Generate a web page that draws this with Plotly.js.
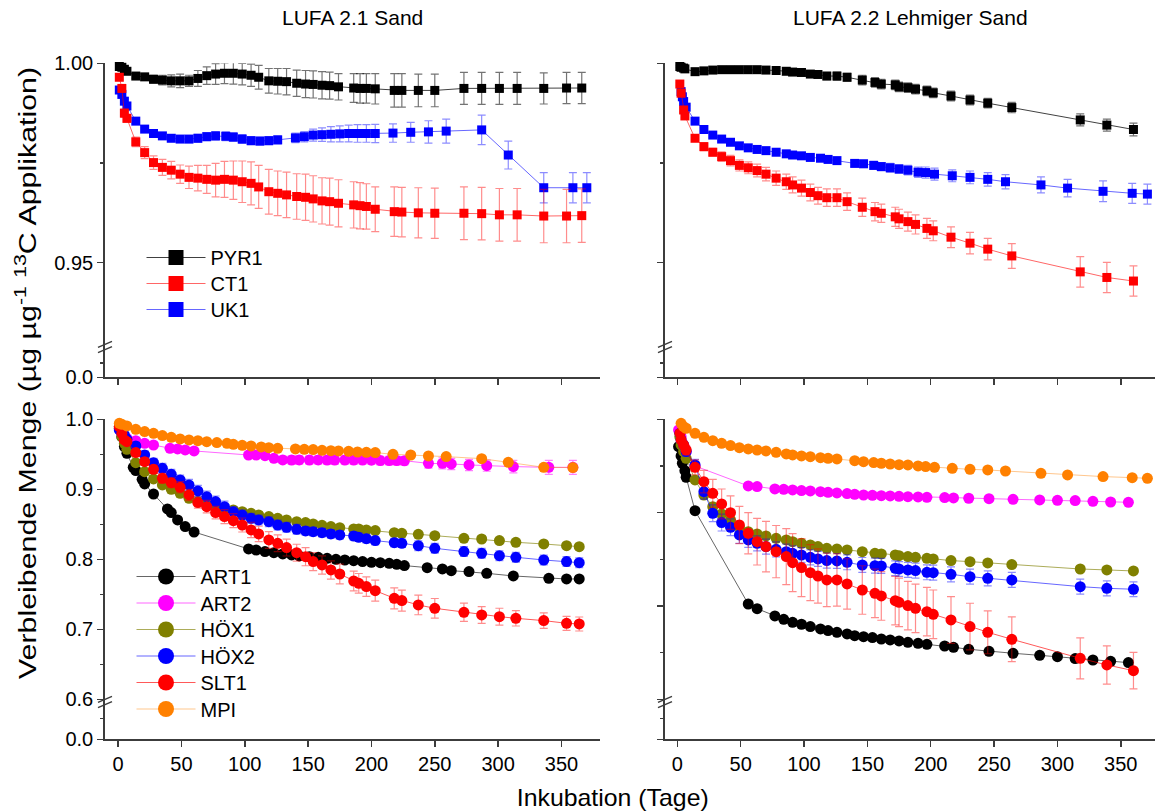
<!DOCTYPE html>
<html>
<head>
<meta charset="utf-8">
<script src="https://cdn.plot.ly/plotly-3.0.1.min.js"></script>
<style>html,body{margin:0;padding:0;background:#fff;}#chart{width:1155px;height:811px;}</style>
</head>
<body>
<div id="chart"></div>
<script>
// ---------------- DATA ----------------
// Top-left: LUFA 2.1 Sand (PYR1, CT1, UK1)
const tlDaysA = [1,3,5,7,14,21,28,35,42,49,56,63,70,77,84,91,98,105,111,119,126,133,141,148,154,161,167,174,186,191,196,203,218,224,237,250,273,287,301,315,336,354,366];
const tlPYR1 = [0.9992,0.999,0.9985,0.998,0.9968,0.9966,0.996,0.9958,0.9956,0.9956,0.9956,0.9962,0.9969,0.9973,0.9975,0.9975,0.9973,0.997,0.9965,0.9956,0.9955,0.9954,0.995,0.9948,0.9947,0.9945,0.9944,0.9941,0.9938,0.9937,0.9937,0.9936,0.9932,0.9932,0.9932,0.9932,0.9937,0.9937,0.9937,0.9937,0.9937,0.9938,0.9938];
const tlPYR1Err = [0.0002,0.0003,0.0004,0.0005,0.0006,0.0008,0.001,0.0012,0.0015,0.0017,0.0014,0.002,0.0022,0.0026,0.0026,0.0027,0.0027,0.0028,0.003,0.0031,0.0032,0.0033,0.0033,0.0034,0.0034,0.0034,0.0034,0.0033,0.0036,0.0037,0.0037,0.0038,0.0042,0.0042,0.0041,0.0041,0.004,0.004,0.004,0.004,0.0039,0.0039,0.0039];
const tlCT1 = [0.9965,0.9937,0.9875,0.9862,0.9803,0.9776,0.9751,0.9739,0.9732,0.9722,0.9714,0.9712,0.9709,0.9707,0.9709,0.9707,0.9703,0.9699,0.969,0.9678,0.9674,0.967,0.9666,0.9664,0.966,0.9655,0.9653,0.9649,0.9645,0.9643,0.9641,0.9634,0.9628,0.9627,0.9625,0.9624,0.9624,0.9623,0.962,0.962,0.9617,0.9617,0.9618];
const tlCT1Err = [0.0005,0.0008,0.001,0.001,0.0012,0.0015,0.0017,0.002,0.0022,0.0023,0.0028,0.0032,0.0035,0.0042,0.0045,0.0048,0.0052,0.0054,0.0054,0.0056,0.0056,0.0057,0.0057,0.0058,0.0058,0.0058,0.0059,0.0059,0.0058,0.0058,0.0057,0.0056,0.0062,0.0062,0.0063,0.0063,0.0066,0.0066,0.0066,0.0066,0.0067,0.0067,0.0067];
const tlDaysUK = [1,3,5,7,14,21,28,35,42,49,56,63,70,77,85,91,98,105,112,119,126,140,147,154,161,168,175,182,189,196,203,217,231,245,259,287,308,336,359,370];
const tlUK1 = [0.9933,0.9922,0.9905,0.9893,0.9855,0.9835,0.9824,0.9818,0.9812,0.981,0.981,0.9812,0.9816,0.9818,0.9817,0.9815,0.981,0.9806,0.9805,0.9806,0.9808,0.9813,0.9816,0.982,0.9821,0.9822,0.9823,0.9824,0.9824,0.9824,0.9824,0.9825,0.9827,0.9828,0.983,0.9833,0.977,0.9688,0.9688,0.9688];
const tlUK1Err = [0.0003,0.0004,0.0005,0.0005,0.0005,0.0005,0.0006,0.0007,0.0008,0.0008,0.0009,0.001,0.001,0.0011,0.0011,0.0011,0.0011,0.001,0.001,0.001,0.001,0.0012,0.0013,0.0015,0.0017,0.0019,0.002,0.0021,0.0022,0.0022,0.0023,0.0023,0.0025,0.0028,0.003,0.0037,0.0035,0.0038,0.0038,0.0038];

// Top-right: LUFA 2.2 Lehmiger Sand (PYR1, CT1, UK1)
const trDaysA = [2,3,5,6,14,21,28,35,42,49,56,63,70,78,86,91,98,105,111,118,126,134,146,156,161,172,175,182,188,197,202,216,231,245,264,318,339,360];
const trPYR1 = [0.9992,0.999,0.9988,0.9986,0.9979,0.9981,0.9983,0.9984,0.9984,0.9984,0.9984,0.9984,0.9983,0.9982,0.998,0.9978,0.9977,0.9973,0.9972,0.9968,0.9968,0.9965,0.9958,0.9952,0.9948,0.9946,0.9941,0.9939,0.9935,0.9931,0.9926,0.9918,0.9908,0.99,0.9889,0.9858,0.9845,0.9834];
const trPYR1Err = [0.0002,0.0002,0.0003,0.0003,0.0003,0.0003,0.0003,0.0004,0.0004,0.0004,0.0004,0.0005,0.0005,0.0006,0.0007,0.0007,0.0008,0.0008,0.0008,0.0009,0.001,0.001,0.0012,0.0012,0.0012,0.0012,0.0012,0.0012,0.0012,0.0012,0.0012,0.0012,0.0012,0.0012,0.0013,0.0015,0.0015,0.0016];
const trCT1 = [0.9948,0.9925,0.9883,0.9868,0.9812,0.9791,0.9777,0.9766,0.9756,0.9744,0.9738,0.9731,0.9722,0.9712,0.9703,0.9695,0.9687,0.9676,0.9668,0.9663,0.9663,0.9653,0.9639,0.9628,0.9624,0.9615,0.961,0.9603,0.9596,0.9586,0.958,0.9564,0.9549,0.9534,0.9517,0.9477,0.9463,0.9454];
const trCT1Err = [0.0003,0.0004,0.0005,0.0005,0.0008,0.001,0.001,0.0012,0.0013,0.0014,0.0015,0.0016,0.0017,0.0018,0.0019,0.002,0.002,0.0021,0.0021,0.0022,0.0022,0.0022,0.0023,0.0023,0.0023,0.0024,0.0024,0.0024,0.0024,0.0025,0.0025,0.0026,0.0027,0.0027,0.0031,0.0038,0.0038,0.0038];
const trDaysUK = [3,4,5,7,14,21,28,35,42,49,56,63,70,78,86,91,98,105,113,119,126,140,147,155,161,168,175,182,190,196,203,217,231,245,259,287,308,336,359,371];
const trUK1 = [0.9929,0.9916,0.9904,0.989,0.9855,0.9834,0.982,0.981,0.9802,0.9793,0.9788,0.9784,0.9781,0.9777,0.9773,0.977,0.9768,0.9764,0.9762,0.9759,0.9756,0.9749,0.9748,0.9744,0.9741,0.9738,0.9735,0.9732,0.9727,0.9726,0.9722,0.9718,0.9714,0.9709,0.9703,0.9695,0.9687,0.9679,0.9674,0.9672];
const trUK1Err = [0.0003,0.0003,0.0003,0.0004,0.0004,0.0004,0.0005,0.0005,0.0005,0.0005,0.0005,0.0005,0.0006,0.0006,0.0006,0.0006,0.0006,0.0007,0.0007,0.0007,0.0007,0.0008,0.0009,0.001,0.001,0.0011,0.0011,0.0012,0.0013,0.0014,0.0015,0.0015,0.0016,0.0017,0.0018,0.002,0.0022,0.0026,0.0025,0.0025];

// Bottom-left: LUFA 2.1 Sand (ART1, ART2, HÖX1, HÖX2, SLT1, MPI)
const blDaysART1 = [1,3,5,7,12,14,19,21,28,39,42,47,53,60,103,109,116,123,130,137,143,151,158,165,172,179,186,193,200,207,214,220,226,244,256,263,277,291,312,340,354,364];
const blART1 = [0.9895,0.975,0.961,0.9514,0.9314,0.9267,0.9143,0.9076,0.8933,0.8719,0.8667,0.8562,0.8467,0.839,0.8148,0.8133,0.811,0.8095,0.8076,0.8062,0.8048,0.8038,0.8029,0.8014,0.8,0.799,0.7981,0.7967,0.7957,0.7952,0.7943,0.7929,0.791,0.7881,0.7862,0.7838,0.7824,0.78,0.7762,0.7729,0.7719,0.7719];
const blART1Err = [0.001,0.002,0.002,0.002,0.002,0.002,0.002,0.002,0.002,0.002,0.002,0.002,0.002,0.002,0.002,0.002,0.002,0.002,0.002,0.002,0.002,0.002,0.002,0.002,0.002,0.002,0.002,0.002,0.002,0.002,0.002,0.002,0.002,0.003,0.003,0.003,0.003,0.003,0.003,0.003,0.003,0.003];
const blDaysART2 = [1,3,7,14,21,28,41,47,53,60,103,109,116,123,130,137,143,151,158,165,171,179,186,193,200,207,214,220,226,245,256,263,277,291,312,340,359];
const blART2 = [0.9871,0.98,0.9729,0.9695,0.9657,0.9633,0.9586,0.9576,0.9562,0.9548,0.949,0.949,0.9481,0.9443,0.9419,0.9418,0.9419,0.9418,0.9419,0.9418,0.9417,0.9418,0.9417,0.9418,0.9416,0.941,0.941,0.941,0.9408,0.9371,0.9371,0.9362,0.9348,0.9338,0.9324,0.9314,0.9314];
const blART2Err = [0.001,0.002,0.002,0.002,0.002,0.002,0.002,0.002,0.002,0.002,0.002,0.002,0.003,0.004,0.005,0.006,0.006,0.006,0.006,0.006,0.006,0.006,0.006,0.006,0.006,0.006,0.006,0.006,0.006,0.007,0.008,0.008,0.008,0.008,0.009,0.01,0.01];
const blDaysA = [1,3,5,7,14,21,28,35,42,49,56,63,70,77,84,91,98,105,111,119,126,133,141,148,154,161,168,175,186,190,196,203,218,224,237,250,273,287,301,314,336,354,364];
const blHOX1 = [0.9871,0.9752,0.9657,0.9571,0.9381,0.9252,0.9148,0.9062,0.9,0.8943,0.8871,0.8824,0.8776,0.8752,0.8729,0.8705,0.8681,0.8657,0.8633,0.861,0.8586,0.8562,0.8538,0.8524,0.8505,0.8486,0.8467,0.8452,0.8433,0.8433,0.8419,0.841,0.8381,0.8371,0.8357,0.8338,0.83,0.829,0.8267,0.8243,0.8219,0.8195,0.8181];
const blHOX1Err = [0.001,0.002,0.002,0.002,0.003,0.003,0.003,0.004,0.004,0.004,0.004,0.004,0.004,0.004,0.004,0.004,0.004,0.004,0.004,0.004,0.004,0.004,0.004,0.004,0.004,0.004,0.004,0.004,0.004,0.004,0.004,0.004,0.004,0.004,0.004,0.004,0.004,0.004,0.004,0.004,0.004,0.004,0.004];
const blHOX2 = [0.9848,0.981,0.9776,0.9714,0.9619,0.949,0.9381,0.93,0.9214,0.9133,0.9062,0.8976,0.8895,0.8824,0.8752,0.8681,0.8633,0.8586,0.8562,0.8538,0.849,0.8457,0.8429,0.8405,0.8395,0.8381,0.8362,0.8348,0.8333,0.8314,0.8295,0.8267,0.8238,0.8229,0.8195,0.8157,0.811,0.8086,0.8052,0.8029,0.799,0.7967,0.7952];
const blHOX2Err = [0.002,0.003,0.003,0.004,0.005,0.006,0.006,0.007,0.007,0.007,0.008,0.008,0.008,0.008,0.008,0.007,0.007,0.007,0.007,0.007,0.007,0.007,0.007,0.006,0.006,0.006,0.006,0.006,0.006,0.006,0.006,0.006,0.006,0.006,0.007,0.007,0.007,0.007,0.007,0.007,0.007,0.007,0.007];
const blSLT1 = [0.9895,0.98,0.9705,0.9681,0.9524,0.9395,0.9286,0.9157,0.9095,0.9029,0.8919,0.881,0.8752,0.8667,0.861,0.8552,0.849,0.8419,0.8362,0.8276,0.8229,0.8167,0.8095,0.8038,0.7967,0.7919,0.7848,0.779,0.769,0.7657,0.761,0.7552,0.7443,0.741,0.7348,0.73,0.7243,0.7205,0.7181,0.7157,0.7124,0.7086,0.7076];
const blSLT1Err = [0.001,0.002,0.002,0.003,0.004,0.005,0.006,0.007,0.007,0.008,0.008,0.008,0.009,0.009,0.01,0.01,0.01,0.011,0.011,0.012,0.012,0.012,0.012,0.013,0.013,0.013,0.013,0.014,0.014,0.014,0.014,0.015,0.015,0.015,0.014,0.014,0.013,0.012,0.012,0.011,0.011,0.01,0.01];
const blDaysMPI = [1,3,7,14,21,28,35,42,49,56,63,70,78,86,91,98,105,113,119,126,140,147,154,161,168,174,182,189,196,203,217,231,245,259,287,308,336,359];
const blMPI = [0.9943,0.9929,0.9905,0.9857,0.9824,0.98,0.9767,0.9743,0.9719,0.9705,0.9695,0.9681,0.9667,0.9657,0.9643,0.9629,0.9619,0.9605,0.9595,0.9586,0.9576,0.9571,0.9567,0.9557,0.9552,0.9548,0.9543,0.9533,0.9529,0.9524,0.95,0.949,0.9476,0.9467,0.9438,0.9386,0.9314,0.931];
const blMPIErr = [0.001,0.001,0.001,0.002,0.002,0.002,0.002,0.002,0.002,0.002,0.002,0.002,0.002,0.002,0.002,0.002,0.002,0.002,0.002,0.002,0.002,0.002,0.002,0.002,0.002,0.002,0.002,0.002,0.002,0.002,0.002,0.002,0.003,0.003,0.003,0.003,0.003,0.003];

// Bottom-right: LUFA 2.2 Lehmiger Sand
const brDaysART = [1,3,4,6,7,14,56,63,77,84,91,98,105,113,119,126,134,140,147,154,161,168,175,182,190,197,211,218,230,246,265,286,300,314,328,342,356];
const brART1 = [0.9707,0.9607,0.9529,0.945,0.9379,0.9021,0.8021,0.7971,0.7893,0.7857,0.7825,0.7804,0.7779,0.7754,0.7736,0.7718,0.77,0.7682,0.7671,0.7661,0.7646,0.7636,0.7625,0.7611,0.76,0.7589,0.7571,0.7557,0.7536,0.7514,0.7493,0.7471,0.7457,0.7436,0.7421,0.7407,0.7393];
const brART1Err = [0.001,0.001,0.001,0.001,0.001,0.002,0.002,0.002,0.002,0.002,0.002,0.002,0.002,0.002,0.002,0.002,0.002,0.002,0.002,0.002,0.002,0.002,0.002,0.002,0.002,0.002,0.002,0.002,0.002,0.002,0.002,0.002,0.002,0.002,0.002,0.002,0.002];
const brART2 = [0.9886,0.9814,0.9743,0.9689,0.9654,0.95,0.9286,0.9279,0.9254,0.925,0.9243,0.9236,0.9232,0.9225,0.9218,0.9211,0.9204,0.9196,0.9189,0.9186,0.9182,0.9179,0.9175,0.9171,0.9168,0.9164,0.9161,0.9157,0.9154,0.915,0.9143,0.9136,0.9132,0.9129,0.9121,0.9114,0.9111];
const brART2Err = [0.001,0.001,0.001,0.001,0.001,0.001,0.001,0.001,0.001,0.001,0.001,0.001,0.001,0.001,0.001,0.001,0.001,0.001,0.001,0.001,0.001,0.001,0.001,0.001,0.001,0.001,0.001,0.001,0.001,0.001,0.001,0.001,0.001,0.001,0.001,0.001,0.001];
const brDaysA = [2,3,5,7,14,21,28,35,42,49,56,63,70,78,86,91,98,105,111,118,126,134,146,156,161,172,175,182,188,197,202,216,231,245,264,318,339,360];
const brHOX1 = [0.9814,0.9725,0.9654,0.9582,0.935,0.9189,0.9064,0.8986,0.8921,0.8845,0.8796,0.8771,0.875,0.8725,0.8707,0.8689,0.8671,0.8654,0.8636,0.8618,0.8611,0.86,0.8582,0.8564,0.8557,0.8546,0.8539,0.8529,0.8521,0.8511,0.8504,0.8486,0.8475,0.8461,0.8443,0.8396,0.8386,0.8375];
const brHOX1Err = [0.001,0.001,0.002,0.002,0.003,0.003,0.003,0.003,0.003,0.003,0.003,0.003,0.003,0.003,0.003,0.003,0.003,0.003,0.003,0.003,0.003,0.003,0.003,0.003,0.003,0.003,0.003,0.003,0.003,0.003,0.003,0.003,0.003,0.003,0.003,0.003,0.003,0.003];
const brHOX2 = [0.985,0.9779,0.9725,0.9654,0.9511,0.9225,0.8993,0.8893,0.8843,0.8761,0.8707,0.8671,0.8636,0.8607,0.8582,0.8564,0.8546,0.8521,0.8504,0.8486,0.8482,0.8468,0.8439,0.8432,0.8429,0.8404,0.8396,0.8386,0.8379,0.8361,0.8357,0.8339,0.8314,0.8296,0.8279,0.8207,0.8189,0.8179];
const brHOX2Err = [0.002,0.003,0.004,0.005,0.006,0.008,0.009,0.009,0.009,0.009,0.008,0.008,0.008,0.008,0.008,0.008,0.008,0.008,0.008,0.008,0.008,0.008,0.008,0.008,0.008,0.008,0.008,0.008,0.008,0.008,0.008,0.008,0.008,0.008,0.008,0.008,0.008,0.008];
const brSLT1 = [0.985,0.9779,0.9725,0.9671,0.9486,0.9332,0.9207,0.9093,0.9,0.8868,0.8779,0.8689,0.8636,0.8582,0.8529,0.8464,0.8411,0.8357,0.8321,0.8279,0.8279,0.8236,0.8171,0.8136,0.8107,0.8057,0.8039,0.8004,0.7975,0.7939,0.7911,0.785,0.7779,0.7718,0.7643,0.7439,0.7368,0.7307];
const brSLT1Err = [0.002,0.003,0.004,0.005,0.008,0.012,0.015,0.016,0.018,0.02,0.022,0.025,0.027,0.028,0.03,0.031,0.031,0.03,0.029,0.0286,0.028,0.027,0.026,0.026,0.026,0.026,0.026,0.026,0.026,0.026,0.026,0.025,0.025,0.023,0.024,0.022,0.0205,0.0196];
const brDaysMPI = [3,5,7,14,21,28,35,42,49,56,63,70,78,86,91,98,105,113,119,126,140,147,155,161,168,175,182,190,196,203,217,231,245,259,287,308,336,359,371];
const brMPI = [0.9957,0.9921,0.9904,0.985,0.9807,0.9771,0.9743,0.9718,0.9696,0.9682,0.9671,0.9661,0.9646,0.9629,0.9618,0.9607,0.96,0.9589,0.9582,0.9575,0.9557,0.9546,0.9536,0.9529,0.9521,0.9514,0.9511,0.95,0.9493,0.9486,0.9475,0.9464,0.9457,0.9446,0.9421,0.9404,0.9386,0.9375,0.9368];
const brMPIErr = [0.001,0.001,0.001,0.001,0.001,0.001,0.001,0.001,0.001,0.001,0.001,0.001,0.001,0.001,0.001,0.001,0.001,0.001,0.001,0.001,0.001,0.001,0.001,0.001,0.001,0.001,0.001,0.001,0.001,0.001,0.001,0.001,0.001,0.001,0.001,0.001,0.001,0.001,0.001];

const topNames = ['PYR1','CT1','UK1'];
const botNames = ['ART1','ART2','HÖX1','HÖX2','SLT1','MPI'];
const xTickVals = [0,50,100,150,200,250,300,350];

// ---------------- STYLE ----------------
const FONT = 'Liberation Sans, Arial, sans-serif';
const AX = '#3c3c3c';
const COL = {
  PYR1:['#000000','rgba(0,0,0,0.75)','rgba(0,0,0,0.55)'],
  CT1:['#ff0000','rgba(255,0,0,0.6)','rgba(255,0,0,0.45)'],
  UK1:['#0000ff','rgba(0,0,255,0.6)','rgba(0,0,255,0.45)'],
  ART1:['#000000','rgba(0,0,0,0.6)','rgba(0,0,0,0.5)'],
  ART2:['#ff00ff','rgba(255,0,255,0.6)','rgba(255,0,255,0.5)'],
  'HÖX1':['#808000','rgba(128,128,0,0.65)','rgba(128,128,0,0.5)'],
  'HÖX2':['#0000ff','rgba(0,0,255,0.6)','rgba(0,0,255,0.45)'],
  SLT1:['#ff0000','rgba(255,0,0,0.65)','rgba(255,0,0,0.45)'],
  MPI:['#ff8000','rgba(255,128,0,0.45)','rgba(255,128,0,0.45)']
};

function series(name, xs, ys, errs, symbol, size, xa, ya) {
  const c = COL[name];
  return {
    type:'scatter', mode:'lines+markers', name:name, x:xs, y:ys, xaxis:xa, yaxis:ya,
    showlegend:false, cliponaxis:false,
    line:{color:c[1], width:1},
    marker:{symbol:symbol, size:size, color:c[0], line:{width:0}},
    error_y:{type:'data', array:errs, visible:true, color:c[2], thickness:1.2, width:4}
  };
}
function legendEntry(name, symbol, size, legendId) {
  const c = COL[name];
  return {
    type:'scatter', mode:'lines+markers', name:name, x:[null], y:[null], xaxis:'x', yaxis:'y',
    showlegend:true, legend:legendId,
    line:{color:c[1], width:1},
    marker:{symbol:symbol, size:size, color:c[0], line:{width:0}}
  };
}
// empty carriers so that the short lower axis segments (around 0.0) are drawn
function carrier(xa, ya) {
  return {type:'scatter', mode:'markers', x:[null], y:[null], xaxis:xa, yaxis:ya, showlegend:false, hoverinfo:'skip'};
}

const SQ = 9, CI = 11;
const traces = [
  carrier('x','y2'), carrier('x2','y4'), carrier('x3','y6'), carrier('x4','y8'),
  series('PYR1', tlDaysA, tlPYR1, tlPYR1Err, 'square', SQ, 'x', 'y'),
  series('UK1', tlDaysUK, tlUK1, tlUK1Err, 'square', SQ, 'x', 'y'),
  series('CT1', tlDaysA, tlCT1, tlCT1Err, 'square', SQ, 'x', 'y'),
  series('PYR1', trDaysA, trPYR1, trPYR1Err, 'square', SQ, 'x2', 'y3'),
  series('UK1', trDaysUK, trUK1, trUK1Err, 'square', SQ, 'x2', 'y3'),
  series('CT1', trDaysA, trCT1, trCT1Err, 'square', SQ, 'x2', 'y3'),
  series('ART1', blDaysART1, blART1, blART1Err, 'circle', CI, 'x3', 'y5'),
  series('ART2', blDaysART2, blART2, blART2Err, 'circle', CI, 'x3', 'y5'),
  series('HÖX1', blDaysA, blHOX1, blHOX1Err, 'circle', CI, 'x3', 'y5'),
  series('HÖX2', blDaysA, blHOX2, blHOX2Err, 'circle', CI, 'x3', 'y5'),
  series('SLT1', blDaysA, blSLT1, blSLT1Err, 'circle', CI, 'x3', 'y5'),
  series('MPI', blDaysMPI, blMPI, blMPIErr, 'circle', CI, 'x3', 'y5'),
  series('ART1', brDaysART, brART1, brART1Err, 'circle', CI, 'x4', 'y7'),
  series('ART2', brDaysART, brART2, brART2Err, 'circle', CI, 'x4', 'y7'),
  series('HÖX1', brDaysA, brHOX1, brHOX1Err, 'circle', CI, 'x4', 'y7'),
  series('HÖX2', brDaysA, brHOX2, brHOX2Err, 'circle', CI, 'x4', 'y7'),
  series('SLT1', brDaysA, brSLT1, brSLT1Err, 'circle', CI, 'x4', 'y7'),
  series('MPI', brDaysMPI, brMPI, brMPIErr, 'circle', CI, 'x4', 'y7')
];

// ---------------- LAYOUT ----------------
const W = 1155, H = 811;
const px = v => v / W;
const py = v => 1 - v / H;
const tickFont = {family:FONT, size:20, color:'#000'};

// one small legend per entry so rows sit at the reference spacing
const legends = {};
const legendBase = {font:{family:FONT, size:20, color:'#000'}, bgcolor:'rgba(0,0,0,0)', borderwidth:0,
  xanchor:'left', yanchor:'top', itemwidth:59, itemclick:false, itemdoubleclick:false};
const topRows = [258, 284, 310];
const botRows = [577, 603.5, 630, 656.5, 683, 709.5];
let li = 1;
topNames.forEach((n, i) => {
  const id = li === 1 ? 'legend' : 'legend' + li;
  traces.push(legendEntry(n, 'square', 15, id));
  legends[id] = Object.assign({x:px(141.5), y:py(topRows[i] - 20)}, legendBase);
  li++;
});
botNames.forEach((n, i) => {
  const id = 'legend' + li;
  traces.push(legendEntry(n, 'circle', 16, id));
  legends[id] = Object.assign({x:px(131.5), y:py(botRows[i] - 20)}, legendBase);
  li++;
});

function xAxis(domain, range, anchor, labels) {
  return {domain, range, anchor, tickmode:'array', tickvals:xTickVals, ticks:'outside', ticklen:6, tickwidth:1.5,
    tickcolor:AX, showline:true, linecolor:AX, linewidth:1.8, showgrid:false, zeroline:false,
    showticklabels:labels, tickfont:tickFont, fixedrange:true};
}
function yUpper(domain, range, dtick, mdtick, fmt, labels, anchor) {
  return {domain, range, anchor, tickmode:'linear', tick0:0, dtick, tickformat:fmt, ticks:'outside', ticklen:6,
    tickwidth:1.5, tickcolor:AX, showline:true, linecolor:AX, linewidth:1.8, showgrid:false, zeroline:false,
    showticklabels:labels, tickfont:tickFont, fixedrange:true,
    minor:{tickmode:'linear', tick0:0, dtick:mdtick, ticks:'outside', ticklen:3.5, tickwidth:1.5, tickcolor:AX, showgrid:false}};
}
function yLower(domain, minorAt, labels, anchor) {
  return {domain, range:[0,1], anchor, tickmode:'array', tickvals:[0], ticktext:['0.0'], ticks:'outside', ticklen:6,
    tickwidth:1.5, tickcolor:AX, showline:true, linecolor:AX, linewidth:1.8, showgrid:false, zeroline:false,
    showticklabels:labels, tickfont:tickFont, fixedrange:true,
    minor:{tickmode:'array', tickvals:[minorAt], ticks:'outside', ticklen:3.5, tickwidth:1.5, tickcolor:AX, showgrid:false}};
}

const xL = [px(105), px(600)], xR = [px(665), 1];
const topBreak = 347, botBreak = 702;
const topUpper = [py(topBreak), py(63.3)], topLower = [py(377.3), py(topBreak)];
const botUpper = [py(botBreak), py(419.3)], botLower = [py(739.3), py(botBreak)];
const topRange = [1 - (topBreak - 63.3) / 3988, 1.0];
const blRange = [1 - (botBreak - 419.3) / 700, 1.0];
const brRange = [1 - (botBreak - 419.3) / 933.3, 1.0];

function breakShapes(ax, by) {
  const s = [];
  [-2.6, 2.6].forEach(o => {
    s.push({type:'line', xref:'paper', yref:'paper', x0:px(ax-7), y0:py(by+o+3), x1:px(ax+7), y1:py(by+o-3),
      line:{color:AX, width:1.5}, layer:'above'});
  });
  return s;
}

const layout = Object.assign({
  width:W, height:H, margin:{l:0, r:0, t:0, b:0}, paper_bgcolor:'#fff', plot_bgcolor:'rgba(0,0,0,0)',
  font:{family:FONT, color:'#000'},
  showlegend:true,
  xaxis: xAxis(xL, [-10.3, 380.4], 'y2', false),
  xaxis2: xAxis(xR, [-9.7, 377.0], 'y4', false),
  xaxis3: xAxis(xL, [-10.3, 380.4], 'y6', true),
  xaxis4: xAxis(xR, [-9.7, 377.0], 'y8', true),
  yaxis: yUpper(topUpper, topRange, 0.05, 0.025, '.2f', true, 'x'),
  yaxis2: yLower(topLower, 0.47, true, 'x'),
  yaxis3: yUpper(topUpper, topRange, 0.05, 0.025, '.2f', false, 'x2'),
  yaxis4: yLower(topLower, 0.47, false, 'x2'),
  yaxis5: yUpper(botUpper, blRange, 0.1, 0.05, '.1f', true, 'x3'),
  yaxis6: yLower(botLower, 0.56, true, 'x3'),
  yaxis7: yUpper(botUpper, brRange, 0.1, 0.05, '.1f', false, 'x4'),
  yaxis8: yLower(botLower, 0.56, false, 'x4'),
  shapes: [].concat(breakShapes(105, topBreak), breakShapes(665, topBreak), breakShapes(105, botBreak), breakShapes(665, botBreak)),
  annotations: [
    {text:'LUFA 2.1 Sand', xref:'paper', yref:'paper', x:px(352), y:py(18), xanchor:'center', yanchor:'middle', showarrow:false, font:{family:FONT, size:21, color:'#000'}},
    {text:'LUFA 2.2 Lehmiger Sand', xref:'paper', yref:'paper', x:px(910), y:py(18), xanchor:'center', yanchor:'middle', showarrow:false, font:{family:FONT, size:21, color:'#000'}},
    {text:'Inkubation (Tage)', xref:'paper', yref:'paper', x:px(612), y:py(797), xanchor:'center', yanchor:'middle', showarrow:false, font:{family:FONT, size:24, color:'#000'}},
    {text:'Verbleibende Menge (µg µg<sup>-1</sup> <sup>13</sup>C Applikation)', xref:'paper', yref:'paper', x:px(26), y:py(373), xanchor:'center', yanchor:'middle', textangle:-90, showarrow:false, font:{family:FONT, size:23, color:'#000'}}
  ]
}, legends);

Plotly.newPlot('chart', traces, layout, {staticPlot:true, displayModeBar:false}).then(gd => {
  // the reference's axis titles are drawn wider than the font's natural width
  const txt = gd.querySelectorAll('g.annotation text.annotation-text');
  const stretch = [[2, 192], [3, 612]];
  stretch.forEach(([i, len]) => {
    const t = txt[i];
    if (t) { t.setAttribute('textLength', len); t.setAttribute('lengthAdjust', 'spacingAndGlyphs'); }
  });
});
</script>
</body>
</html>
